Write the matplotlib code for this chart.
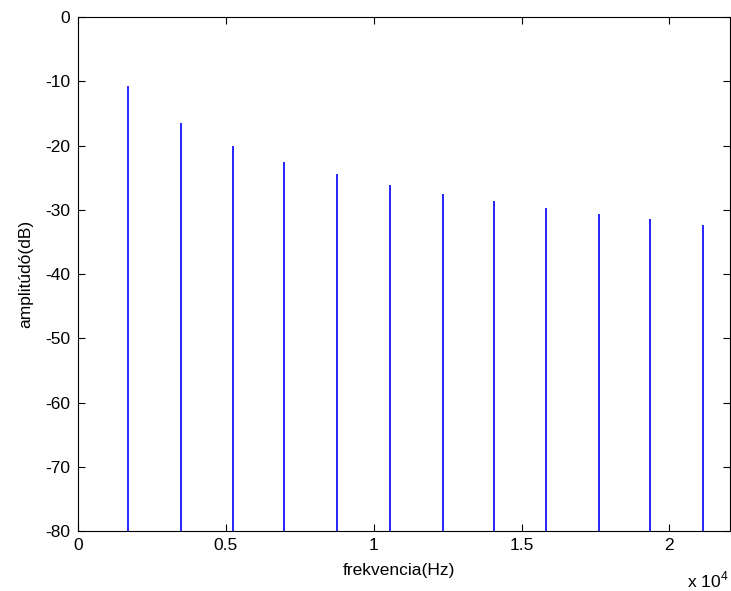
import matplotlib
matplotlib.use("Agg")
import matplotlib.pyplot as plt

freqs = [1702, 3475, 5255, 6981, 8775, 10558, 12328, 14068, 15838, 17621, 19347, 21127]
amps = [-10.7, -16.5, -20.1, -22.6, -24.5, -26.2, -27.5, -28.7, -29.7, -30.6, -31.5, -32.3]
xticks = [0, 5000, 10000, 15000, 20000]
xticklabels = ["0", "0.5", "1", "1.5", "2"]
yticks = [0, -10, -20, -30, -40, -50, -60, -70, -80]

plt.rcParams['font.family'] = ['Liberation Sans', 'DejaVu Sans']
plt.rcParams['axes.unicode_minus'] = False
plt.rcParams['mathtext.fontset'] = 'custom'
plt.rcParams['mathtext.rm'] = 'Liberation Sans'
fig = plt.figure(figsize=(7.31, 5.91), dpi=100)
ax = fig.add_axes([78/731, 60/591, 652/731, 514/591])
ax.vlines(freqs, -80, amps, colors='#0000ff', linewidth=1.2)
ax.set_xlim(0, 22050)
ax.set_ylim(-80, 0)
ax.set_xticks(xticks)
ax.set_xticklabels(xticklabels)
ax.set_yticks(yticks)
ax.tick_params(direction='in', top=True, right=True, labelsize=12.5, length=5, width=0.8, colors='black')
ax.tick_params(axis='x', pad=5)
ax.tick_params(axis='y', pad=5.5)
for s in ax.spines.values():
    s.set_linewidth(0.8)
ax.set_xlabel('frekvencia(Hz)', fontsize=12.5)
ax.set_ylabel('amplitúdó(dB)', fontsize=12.5)
ax.xaxis.set_label_coords(0.4916, -0.062)
ax.yaxis.set_label_coords(-0.069, 0.5)
fig.text(708/731, 1 - 587/591, r'x 10$^{\mathrm{4}}$', fontsize=12.5, ha='center', va='baseline')
fig.savefig('out.png', dpi=100)
